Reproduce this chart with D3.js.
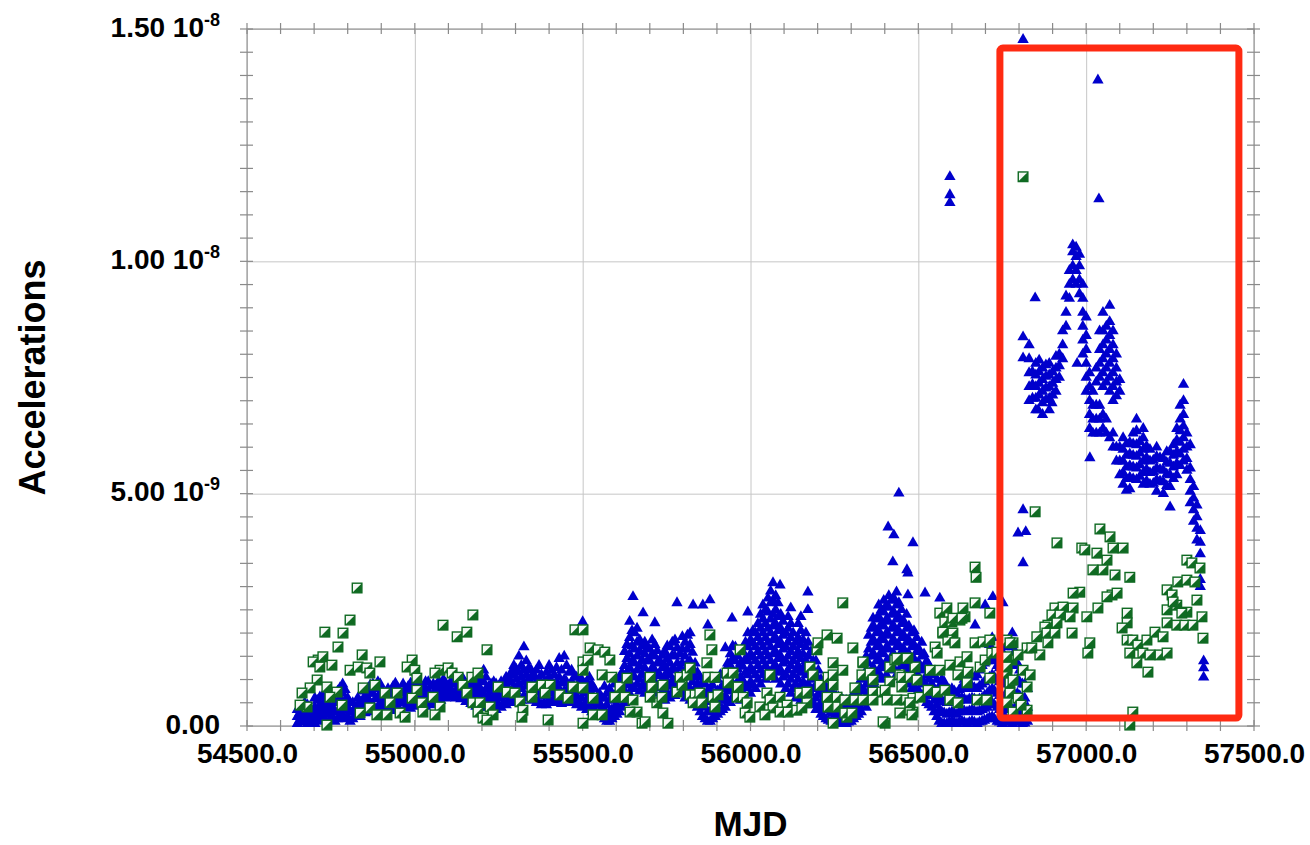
<!DOCTYPE html>
<html>
<head>
<meta charset="utf-8">
<script src="https://cdn.jsdelivr.net/npm/d3@7"></script>
<style>
body { margin: 0; background: #fff; }
text { font-family: "Liberation Sans", Arial, Helvetica, sans-serif; font-weight: bold; fill: #000; }
</style>
</head>
<body>
<div class="chart"></div>
<script>
var svgWidth = 1310;
var svgHeight = 845;

var margin = {
  top: 29,
  right: 56,
  bottom: 119,
  left: 247
};

var width = svgWidth - margin.left - margin.right;
var height = svgHeight - margin.top - margin.bottom;

// values below are in units of 1e-9
var UNIT = 1e-9;

var xTicks = [54500, 55000, 55500, 56000, 56500, 57000, 57500];
var yTicks = [0, 5e-9, 1e-8, 1.5e-8];
var yTickMantissa = ["0.00", "5.00", "1.00", "1.50"];
var yTickExponent = ["", "-9", "-8", "-8"];

// highlighted window: mjd from, mjd to, acc from, acc to
var highlightBox = [56743, 57455, 0.17, 14.59];

// blue series: [mjd, values seen at that date...]
var blueRows = [
  [54650, 0.05, 0.2, 0.35], [54665, 0.1, 0.25, 0.4, 0.15], [54680, 0.05, 0.2, 0.35, 0.45],
  [54695, 0.1, 0.3, 0.2], [54710, 0.15, 0.35, 0.55, 0.25], [54725, 0.2, 0.45, 0.65, 0.3],
  [54740, 0.25, 0.5, 0.4, 0.7], [54755, 0.2, 0.4, 0.6], [54770, 0.3, 0.5, 0.75, 0.15],
  [54785, 0.25, 0.45, 0.7, 0.9], [54800, 0.2, 0.4, 0.6], [54815, 0.3, 0.5, 0.15],
  [54830, 0.3, 0.45, 0.6], [54845, 0.35, 0.55, 0.75], [54860, 0.4, 0.6, 0.8, 0.5],
  [54875, 0.45, 0.7, 0.9], [54890, 0.4, 0.6, 0.85, 0.95], [54905, 0.35, 0.55, 0.75],
  [54920, 0.4, 0.6, 0.8], [54935, 0.45, 0.65, 0.85], [54950, 0.4, 0.6, 0.8],
  [54965, 0.5, 0.7, 0.9], [54980, 0.45, 0.65, 0.85], [54995, 0.5, 0.7, 0.95],
  [55010, 0.55, 0.75, 0.9], [55025, 0.5, 0.7, 0.85], [55040, 0.55, 0.75, 0.95],
  [55055, 0.5, 0.7, 0.9], [55070, 0.6, 0.8, 0.95], [55085, 0.65, 0.8, 1.0],
  [55100, 0.7, 0.85], [55115, 0.7, 0.9, 1.0], [55130, 0.65, 0.8, 0.95],
  [55145, 0.6, 0.8, 1.0], [55160, 0.55, 0.75, 0.95], [55175, 0.5, 0.7, 0.9, 1.05],
  [55190, 0.45, 0.65, 0.85, 1.1], [55205, 0.5, 0.7, 0.95, 1.2], [55220, 0.45, 0.65, 0.85],
  [55235, 0.4, 0.6, 0.8, 0.95], [55250, 0.45, 0.65, 0.85], [55265, 0.5, 0.7, 0.9],
  [55280, 0.55, 0.8, 1.0], [55295, 0.6, 0.85, 1.1, 1.3], [55310, 0.6, 0.9, 1.15, 1.5],
  [55325, 0.65, 0.95, 1.2, 1.7], [55340, 0.7, 1.0, 1.25], [55355, 0.6, 0.85, 1.1],
  [55370, 0.5, 0.75, 1.0, 1.3], [55385, 0.5, 0.7, 0.95], [55400, 0.55, 0.8, 1.05, 1.3],
  [55415, 0.6, 0.85, 1.1], [55430, 0.55, 0.8, 1.05, 1.45], [55445, 0.5, 0.75, 1.0, 1.5],
  [55460, 0.6, 0.85, 1.15], [55475, 0.55, 0.8, 1.05], [55490, 0.5, 0.75, 0.95],
  [55500, 2.24],
  [55505, 0.45, 0.7, 0.9], [55520, 0.4, 0.65, 0.85, 1.05], [55535, 0.35, 0.55, 0.8],
  [55550, 0.3, 0.5, 0.7], [55565, 0.15, 0.35, 0.6, 0.85], [55580, 0.1, 0.3, 0.55, 0.8],
  [55595, 0.2, 0.4, 0.65, 0.9], [55610, 0.3, 0.55, 0.8, 1.05], [55625, 0.5, 0.75, 1.0, 1.3, 1.6],
  [55640, 0.7, 0.95, 1.25, 1.55, 1.9, 2.25], [55650, 2.78], [55655, 0.8, 1.05, 1.35, 1.65, 2.0],
  [55670, 0.75, 1.0, 1.3, 1.6, 1.85], [55680, 2.43], [55685, 0.7, 0.95, 1.25, 1.55, 1.8],
  [55700, 0.8, 1.1, 1.4, 1.65], [55715, 0.7, 0.95, 1.2, 1.5, 1.75, 2.22], [55730, 0.6, 0.85, 1.1, 1.4],
  [55745, 0.55, 0.8, 1.05, 1.3, 1.6], [55760, 0.6, 0.85, 1.1, 1.35, 1.7], [55775, 0.65, 0.9, 1.2, 1.5, 1.85],
  [55781, 2.65], [55790, 0.7, 0.95, 1.25, 1.55], [55805, 0.6, 0.9, 1.2, 1.5, 1.8],
  [55820, 0.55, 0.8, 1.1, 1.4, 1.75, 2.0], [55829, 2.6], [55835, 0.5, 0.8, 1.05, 1.35],
  [55850, 0.3, 0.55, 0.8, 1.05], [55858, 2.6], [55865, 0.15, 0.4, 0.65, 0.9],
  [55873, 2.17], [55879, 2.71], [55880, 0.1, 0.3, 0.55, 0.8], [55895, 0.2, 0.45, 0.7, 1.0],
  [55910, 0.3, 0.55, 0.8, 1.1], [55925, 0.4, 0.65, 0.9, 1.2, 1.68], [55940, 0.5, 0.75, 1.0, 1.3, 1.55],
  [55945, 2.32], [55955, 0.6, 0.85, 1.1, 1.4, 1.7], [55970, 0.55, 0.8, 1.05, 1.35, 1.6],
  [55985, 0.6, 0.85, 1.15, 1.45, 1.8], [55992, 2.45], [56000, 0.7, 0.95, 1.25, 1.55, 1.85],
  [56015, 0.8, 1.1, 1.4, 1.7, 2.0], [56030, 0.9, 1.2, 1.5, 1.8, 2.1, 2.4],
  [56045, 1.0, 1.3, 1.6, 1.9, 2.2, 2.5], [56060, 1.1, 1.4, 1.7, 2.0, 2.3, 2.65, 2.9],
  [56067, 3.08], [56075, 1.0, 1.3, 1.6, 1.9, 2.2, 2.5, 2.8], [56088, 3.03],
  [56090, 0.9, 1.2, 1.5, 1.8, 2.1, 2.4], [56105, 0.8, 1.1, 1.4, 1.7, 2.0],
  [56120, 0.7, 1.0, 1.3, 1.6, 1.9, 2.2, 2.54], [56135, 0.6, 0.9, 1.2, 1.5, 1.8],
  [56150, 0.55, 0.85, 1.15, 1.45, 1.75, 2.05, 2.35], [56165, 0.5, 0.8, 1.1, 1.4, 1.7, 2.0],
  [56171, 2.88, 2.5], [56180, 0.45, 0.7, 1.0, 1.3, 1.6], [56195, 0.35, 0.6, 0.85, 1.1, 1.4],
  [56210, 0.25, 0.5, 0.75, 1.0], [56225, 0.15, 0.4, 0.6, 0.85], [56240, 0.1, 0.3, 0.5, 0.7],
  [56255, 0.05, 0.25, 0.45, 0.65], [56270, 0.05, 0.2, 0.4, 0.6], [56285, 0.05, 0.2, 0.35, 0.55],
  [56300, 0.1, 0.3, 0.5], [56315, 0.2, 0.4, 0.6, 0.8], [56330, 0.3, 0.5, 0.75, 1.0],
  [56345, 0.4, 0.65, 0.9, 1.2, 1.5], [56360, 0.6, 0.9, 1.2, 1.5, 1.8, 2.1], [56365, 2.32],
  [56375, 0.8, 1.1, 1.4, 1.7, 2.0, 2.3], [56390, 1.0, 1.3, 1.6, 1.9, 2.2, 2.5],
  [56405, 1.1, 1.4, 1.7, 2.0, 2.3, 2.6], [56410, 4.28], [56420, 1.2, 1.5, 1.8, 2.1, 2.4, 2.7],
  [56424, 3.53], [56427, 4.11], [56435, 1.1, 1.4, 1.7, 2.0, 2.3, 2.6, 2.88], [56442, 5.01],
  [56450, 1.0, 1.3, 1.6, 1.9, 2.2, 2.5], [56465, 0.9, 1.2, 1.5, 1.8, 2.1, 2.4],
  [56466, 3.36], [56469, 3.29, 2.82], [56480, 0.8, 1.1, 1.4, 1.7, 2.0], [56484, 3.94],
  [56495, 0.7, 1.0, 1.3, 1.6, 1.9], [56510, 0.6, 0.9, 1.2, 1.5, 1.8], [56520, 2.86],
  [56525, 0.5, 0.8, 1.1, 1.4], [56540, 0.4, 0.65, 0.9, 1.2], [56555, 0.2, 0.45, 0.7, 1.0],
  [56564, 2.75], [56570, 0.05, 0.3, 0.55, 0.8, 1.0], [56585, 0.05, 0.25, 0.5, 0.75],
  [56594, 11.82, 11.43, 11.26], [56600, 0.1, 0.3, 0.55, 0.8], [56615, 0.05, 0.25, 0.5, 0.7],
  [56630, 0.1, 0.35, 0.6, 0.85], [56645, 0.05, 0.3, 0.55, 0.8, 1.05], [56660, 0.1, 0.35, 0.6, 0.85],
  [56669, 2.17], [56675, 0.05, 0.3, 0.55, 0.8, 1.1], [56690, 0.1, 0.35, 0.6, 0.9, 1.3],
  [56699, 2.6], [56705, 0.15, 0.4, 0.7, 1.0, 1.4], [56720, 0.2, 0.5, 0.8, 1.1, 1.5, 1.9],
  [56722, 2.78], [56735, 0.1, 0.4, 0.7, 1.0, 1.3], [56750, 0.05, 0.3, 0.6, 0.9, 1.2, 1.6],
  [56752, 2.65], [56765, 0.1, 0.4, 0.7, 1.0, 1.4, 1.8], [56780, 0.05, 0.35, 0.65, 0.95, 1.3, 1.7, 2.0],
  [56795, 0.1, 0.4, 0.7, 1.0, 1.35], [56797, 4.15], [56810, 0.05, 0.3, 0.6, 0.9],
  [56812, 14.77, 8.37, 7.92, 4.65, 3.51], [56820, 4.18], [56825, 0.1, 0.4, 0.8],
  // in-between dates of the low band
  [54657, 0.12, 0.28, 0.42], [54672, 0.08, 0.3, 0.5], [54687, 0.12, 0.28, 0.4],
  [54702, 0.05, 0.22, 0.4, 0.6], [54717, 0.1, 0.3, 0.45, 0.62], [54732, 0.12, 0.35, 0.55],
  [54747, 0.15, 0.32, 0.58], [54762, 0.1, 0.3, 0.5, 0.68], [54777, 0.2, 0.38, 0.6, 0.82],
  [54792, 0.15, 0.35, 0.55, 0.78], [54807, 0.1, 0.3, 0.5], [54822, 0.2, 0.4],
  [54837, 0.2, 0.38, 0.52], [54852, 0.28, 0.45, 0.65], [54867, 0.3, 0.5, 0.7, 0.88],
  [54882, 0.35, 0.58, 0.8], [54897, 0.3, 0.5, 0.72, 0.9], [54912, 0.3, 0.48, 0.68],
  [54927, 0.33, 0.52, 0.72], [54942, 0.35, 0.55, 0.75, 0.92], [54957, 0.32, 0.52, 0.72],
  [54972, 0.4, 0.6, 0.8], [54987, 0.38, 0.58, 0.78, 0.92], [55002, 0.42, 0.62, 0.82],
  [55017, 0.45, 0.65, 0.85], [55032, 0.42, 0.62, 0.8, 0.95], [55047, 0.45, 0.65, 0.85],
  [55062, 0.5, 0.68, 0.86], [55077, 0.55, 0.72, 0.9], [55092, 0.6, 0.75, 0.92],
  [55107, 0.62, 0.78, 0.95], [55122, 0.6, 0.75, 0.9, 1.05], [55137, 0.58, 0.72, 0.88],
  [55152, 0.52, 0.7, 0.9], [55167, 0.48, 0.65, 0.85, 1.0], [55182, 0.42, 0.6, 0.8, 0.98],
  [55197, 0.4, 0.58, 0.78, 1.0], [55212, 0.4, 0.6, 0.8, 1.05], [55227, 0.38, 0.55, 0.75, 0.9],
  [55242, 0.35, 0.55, 0.72, 0.9], [55257, 0.4, 0.6, 0.8, 0.95], [55272, 0.45, 0.65, 0.85, 1.05],
  [55287, 0.5, 0.72, 0.95, 1.15], [55302, 0.52, 0.75, 1.0, 1.22], [55317, 0.55, 0.8, 1.05, 1.3],
  [55332, 0.6, 0.85, 1.1, 1.4], [55347, 0.55, 0.8, 1.05, 1.2], [55362, 0.5, 0.72, 0.95, 1.2],
  [55377, 0.45, 0.65, 0.88, 1.1], [55392, 0.45, 0.65, 0.85, 1.15], [55407, 0.5, 0.7, 0.95, 1.2],
  [55422, 0.5, 0.72, 0.95, 1.25], [55437, 0.48, 0.7, 0.92, 1.2], [55452, 0.52, 0.75, 0.95, 1.3],
  [55467, 0.5, 0.72, 0.95, 1.2], [55482, 0.45, 0.65, 0.85, 1.05], [55497, 0.4, 0.6, 0.8, 1.0],
  [55512, 0.35, 0.55, 0.78, 0.95], [55527, 0.3, 0.5, 0.7, 0.9], [55542, 0.25, 0.45, 0.62],
  [55557, 0.2, 0.4, 0.6], [55572, 0.1, 0.25, 0.45, 0.7], [55587, 0.15, 0.35, 0.6],
  [55602, 0.25, 0.45, 0.7, 0.95], [55617, 0.4, 0.65, 0.9, 1.15], [55632, 0.62, 0.88, 1.15, 1.45, 1.75],
  [55647, 0.82, 1.1, 1.4, 1.72, 2.05], [55662, 0.9, 1.2, 1.5, 1.8, 2.1], [55677, 0.85, 1.12, 1.42, 1.72],
  [55692, 0.85, 1.1, 1.4, 1.68], [55707, 0.95, 1.25, 1.55, 1.85], [55722, 0.82, 1.08, 1.35, 1.62],
  [55737, 0.72, 0.98, 1.25, 1.52], [55752, 0.68, 0.92, 1.18, 1.45, 1.72], [55767, 0.72, 0.98, 1.22, 1.52, 1.8],
  [55782, 0.78, 1.05, 1.35, 1.68], [55797, 0.75, 1.05, 1.35, 1.65, 1.92], [55812, 0.72, 1.05, 1.35, 1.65, 1.95],
  [55827, 0.65, 0.95, 1.25, 1.58], [55842, 0.4, 0.65, 0.9, 1.15], [55857, 0.2, 0.45, 0.7, 0.95],
  [55872, 0.1, 0.3, 0.52, 0.75], [55887, 0.15, 0.38, 0.62, 0.88], [55902, 0.25, 0.5, 0.75, 1.0],
  [55917, 0.35, 0.6, 0.85, 1.1], [55932, 0.55, 0.8, 1.08, 1.35], [55947, 0.62, 0.9, 1.18, 1.45, 1.72],
  [55962, 0.7, 0.95, 1.22, 1.5], [55977, 0.7, 0.98, 1.28, 1.6], [55992, 0.82, 1.1, 1.4, 1.7, 2.0],
  [56007, 0.88, 1.18, 1.48, 1.78, 2.05], [56022, 1.0, 1.3, 1.6, 1.9, 2.2],
  [56037, 1.1, 1.4, 1.7, 2.0, 2.3, 2.6], [56052, 1.2, 1.5, 1.8, 2.1, 2.45, 2.75],
  [56067, 1.25, 1.55, 1.85, 2.15, 2.4, 2.7], [56082, 1.15, 1.45, 1.75, 2.05, 2.35, 2.65],
  [56097, 1.05, 1.35, 1.65, 1.95, 2.25], [56112, 0.9, 1.2, 1.5, 1.8, 2.1, 2.35],
  [56127, 0.8, 1.1, 1.4, 1.7, 2.0], [56142, 0.7, 1.0, 1.3, 1.6, 1.9, 2.2],
  [56157, 0.65, 0.95, 1.25, 1.55, 1.85], [56172, 0.6, 0.9, 1.2, 1.5, 1.8],
  [56187, 0.5, 0.8, 1.1, 1.4], [56202, 0.4, 0.68, 0.95, 1.2], [56217, 0.2, 0.45, 0.68, 0.92],
  [56232, 0.12, 0.35, 0.55, 0.78], [56247, 0.08, 0.28, 0.48, 0.68], [56262, 0.05, 0.22, 0.42, 0.62],
  [56277, 0.05, 0.22, 0.38, 0.55], [56292, 0.08, 0.25, 0.42], [56307, 0.15, 0.35, 0.55, 0.7],
  [56322, 0.25, 0.45, 0.68, 0.9], [56337, 0.5, 0.78, 1.05, 1.35], [56352, 0.75, 1.05, 1.35, 1.65, 1.95],
  [56367, 0.95, 1.25, 1.55, 1.85, 2.15], [56382, 1.15, 1.45, 1.75, 2.05, 2.35, 2.6],
  [56397, 1.25, 1.55, 1.85, 2.15, 2.45, 2.7], [56412, 1.35, 1.65, 1.95, 2.25, 2.55, 2.8],
  [56427, 1.25, 1.55, 1.85, 2.15, 2.45, 2.75], [56442, 1.15, 1.45, 1.75, 2.05, 2.35, 2.65],
  [56457, 1.05, 1.35, 1.65, 1.95, 2.25], [56472, 0.95, 1.25, 1.55, 1.85, 2.15],
  [56487, 0.85, 1.15, 1.45, 1.75, 2.05], [56502, 0.75, 1.05, 1.35, 1.65],
  [56517, 0.65, 0.95, 1.25, 1.55], [56532, 0.45, 0.72, 1.0, 1.3],
  [56547, 0.3, 0.55, 0.8, 1.1], [56562, 0.1, 0.35, 0.6, 0.85], [56577, 0.05, 0.28, 0.52, 0.78, 0.95],
  [56592, 0.08, 0.28, 0.52, 0.78], [56607, 0.08, 0.28, 0.52, 0.75], [56622, 0.08, 0.3, 0.55, 0.78],
  [56637, 0.08, 0.32, 0.58, 0.82, 1.0], [56652, 0.08, 0.32, 0.58, 0.82], [56667, 0.08, 0.32, 0.58, 0.82, 1.05],
  [56682, 0.08, 0.32, 0.58, 0.85, 1.2], [56697, 0.12, 0.38, 0.65, 0.95, 1.35], [56712, 0.18, 0.45, 0.75, 1.05, 1.45, 1.75],
  [56727, 0.15, 0.45, 0.75, 1.05, 1.4], [56742, 0.08, 0.35, 0.65, 0.95, 1.25, 1.5],
  [56757, 0.08, 0.35, 0.65, 0.95, 1.3, 1.7], [56772, 0.08, 0.38, 0.68, 0.98, 1.35, 1.75],
  [56787, 0.08, 0.38, 0.68, 0.98, 1.3, 1.6], [56802, 0.08, 0.35, 0.65, 0.95, 1.2], [56817, 0.06, 0.3, 0.6, 0.9],
  // inside the highlighted window
  [56830, 7.0, 7.3, 7.6, 7.9, 8.2], [56840, 7.05, 7.35, 7.62], [56848, 9.21],
  [56850, 6.8, 7.05, 7.3, 7.55, 7.8], [56857, 6.8], [56860, 7.12, 7.37, 7.62, 7.87],
  [56870, 6.7, 6.95, 7.2, 7.45, 7.7], [56880, 7.02, 7.27, 7.52, 7.77],
  [56890, 6.8, 7.05, 7.3, 7.55, 7.8], [56898, 6.95], [56900, 7.12, 7.37, 7.62],
  [56910, 7.2, 7.45, 7.7, 7.95], [56920, 7.5, 7.75, 8.0], [56930, 7.9, 8.2, 8.5],
  [56940, 8.6, 8.9, 9.25], [56950, 9.2, 9.5, 9.8], [56960, 9.6, 9.9, 10.2, 10.35],
  [56970, 9.5, 9.8, 10.1, 10.3], [56973, 7.8], [56980, 9.3, 9.6, 9.9, 10.15],
  [56990, 8.0, 8.3, 8.6, 8.9, 9.2, 9.5], [57000, 7.2, 7.5, 7.8, 8.1, 8.4, 8.8],
  [57010, 6.4, 6.7, 7.0, 7.3, 7.6], [57011, 5.77], [57020, 6.3, 6.6, 6.9, 7.2],
  [57030, 6.3, 6.6, 6.9, 7.4, 7.7], [57035, 13.9], [57038, 11.34],
  [57040, 6.3, 6.6, 6.9, 7.5, 7.8, 8.1, 8.5], [57050, 6.4, 6.7, 7.3, 7.6, 7.9, 8.2, 8.5, 8.9],
  [57060, 6.3, 6.6, 7.4, 7.7, 8.0, 8.3, 8.6], [57070, 6.2, 7.2, 7.5, 7.8, 8.1, 8.4, 8.7, 9.05],
  [57080, 6.0, 6.3, 7.0, 7.3, 7.6, 7.9, 8.2, 8.5], [57090, 5.7, 6.0, 7.1, 7.4, 7.7, 8.0],
  [57100, 5.4, 5.7, 6.0, 7.2, 7.45], [57110, 5.2, 5.45, 5.7, 5.95, 6.2],
  [57120, 5.07, 5.32, 5.57, 5.82, 6.07], [57130, 5.1, 5.35, 5.6, 5.85, 6.1],
  [57140, 5.32, 5.57, 5.82, 6.07, 6.3], [57150, 5.3, 5.55, 5.8, 6.05, 6.35, 6.6],
  [57160, 5.37, 5.62, 5.87, 6.12], [57170, 5.2, 5.45, 5.7, 5.95, 6.2, 6.4],
  [57180, 5.27, 5.52, 5.77, 6.02], [57190, 5.2, 5.45, 5.7, 5.95],
  [57200, 5.22, 5.47, 5.72], [57210, 5.05, 5.3, 5.55, 5.8, 6.0],
  [57220, 5.27, 5.52, 5.77], [57230, 5.0, 5.25, 5.5, 5.75],
  [57240, 5.17, 5.42, 5.67, 5.9], [57250, 5.15, 5.4, 5.65, 5.9, 4.71],
  [57260, 5.32, 5.57, 5.82, 6.05], [57270, 5.4, 5.65, 5.9, 6.15, 6.4],
  [57280, 5.6, 5.85, 6.1, 6.35, 6.6, 6.9], [57290, 5.7, 5.95, 6.2, 6.45, 6.7, 7.0, 7.35],
  [57300, 5.5, 5.75, 6.0, 6.3], [57310, 4.8, 5.05, 5.3, 5.55, 6.05],
  [57320, 4.4, 4.65, 4.9, 5.15], [57330, 4.0, 4.25, 4.5, 4.75],
  [57340, 3.7, 3.95, 4.2, 3.0, 3.15], [57350, 1.05, 1.25, 1.4]
];

// green series: [mjd, value]
var greenPoints = [
  [54828, 2.97], [54807, 2.28], [54732, 2.02], [54786, 2.0], [54771, 1.7], [54712, 1.42],
  [54697, 1.38], [54726, 1.49], [54843, 1.53], [54896, 1.38], [54717, 1.27], [54753, 1.31],
  [54807, 1.2], [54831, 1.27], [54857, 1.25], [54866, 1.14], [54709, 0.99], [54688, 0.82],
  [54664, 0.71], [54679, 0.41], [54658, 0.45], [54738, 0.84], [54768, 0.73], [54846, 0.82],
  [54881, 0.88], [54783, 0.45], [54747, 0.62], [54866, 0.39], [54887, 0.24], [54738, 0.02],
  [54837, 0.28], [54992, 1.42], [54977, 1.27], [55000, 1.2], [54911, 0.71], [54947, 0.71],
  [54926, 0.5], [54917, 0.24], [54956, 0.28], [54971, 0.19], [55006, 1.03], [55006, 0.77],
  [54992, 0.6], [55021, 0.5], [55024, 0.3], [55054, 0.62], [55075, 0.41], [55060, 0.24],
  [55075, 1.2], [55060, 1.14], [55099, 1.25], [55111, 1.14], [55084, 2.17], [55173, 2.39],
  [55126, 1.92], [55155, 2.02], [55215, 1.64], [55129, 1.05], [55143, 0.88], [55170, 1.05],
  [55188, 1.14], [55155, 0.71], [55173, 0.5], [55194, 0.5], [55188, 0.3], [55224, 0.41],
  [55233, 0.24], [55203, 0.17], [55215, 0.13], [55248, 0.84], [55275, 0.73], [55298, 0.71],
  [55313, 0.52], [55349, 0.84], [55379, 0.88], [55403, 0.88], [55322, 0.34], [55319, 0.19],
  [55397, 0.13], [55349, 0.62], [55388, 0.71], [55432, 0.67], [55456, 0.6], [55471, 0.84],
  [55477, 2.07], [55501, 0.06],
  [55501, 2.07], [55522, 1.68], [55546, 1.64], [55566, 1.59], [55501, 1.38], [55516, 1.42],
  [55501, 1.2], [55581, 1.42], [55558, 1.1], [55587, 1.05], [55501, 0.82], [55531, 0.6],
  [55531, 0.24], [55558, 0.24], [55596, 0.62], [55611, 0.84], [55626, 0.62], [55632, 1.03],
  [55650, 0.56], [55662, 0.3], [55641, 0.3], [55677, 0.06], [55686, 0.09], [55701, 1.05],
  [55706, 0.84], [55739, 0.88], [55721, 0.5], [55739, 0.28], [55754, 0.06], [55701, 0.62],
  [55736, 0.62], [55781, 0.73], [55796, 0.88], [55790, 1.05], [55811, 1.1], [55820, 1.25],
  [55820, 0.67], [55835, 0.67], [55849, 0.71], [55829, 0.5], [55855, 0.5], [55879, 1.96],
  [55885, 1.64], [55870, 1.36], [55873, 1.05], [55894, 1.05], [55888, 0.62], [55903, 0.67],
  [55894, 0.41], [55930, 1.14], [55948, 1.14], [55933, 0.93], [55960, 0.84], [55969, 1.64],
  [55963, 0.84], [55960, 0.62], [55978, 0.62], [55990, 0.5], [55984, 0.28], [55998, 0.19],
  [56049, 0.71], [56058, 0.56], [56067, 0.39], [56088, 0.62], [56109, 0.45], [56028, 0.41],
  [56043, 0.24], [56088, 0.3], [56112, 0.3], [56138, 0.34], [56058, 1.1], [56168, 0.5],
  [56153, 0.39], [56147, 0.71], [56168, 0.73], [56177, 1.27], [56186, 1.1], [56207, 0.88],
  [56231, 1.05], [56246, 0.88], [56198, 1.64], [56201, 1.79], [56228, 1.96], [56258, 1.89],
  [56246, 1.36], [56246, 1.1], [56275, 2.65], [56305, 1.68], [56228, 0.62], [56258, 0.62],
  [56258, 0.41], [56231, 0.41], [56246, 0.06], [56287, 0.19], [56335, 1.36], [56332, 1.1],
  [56356, 1.14], [56365, 0.99], [56365, 0.73], [56392, 0.73], [56401, 0.06], [56415, 0.95],
  [56445, 1.1], [56451, 0.84], [56415, 1.27], [56430, 1.42], [56469, 1.46], [56460, 0.56],
  [56484, 0.6], [56484, 0.3], [56475, 0.34], [56490, 1.27],
  [56335, 1.38], [56275, 1.2], [56311, 0.82], [56281, 0.56], [56311, 0.56], [56335, 0.56],
  [56365, 0.56], [56281, 0.28], [56302, 0.28], [56395, 0.09], [56401, 0.77], [56407, 0.56],
  [56436, 1.46], [56466, 1.46], [56451, 1.05], [56475, 1.05], [56496, 0.99], [56436, 0.56],
  [56475, 0.5], [56505, 0.62], [56445, 0.28], [56481, 0.24], [56564, 2.43], [56579, 2.24],
  [56600, 2.24], [56624, 2.28], [56639, 2.35], [56573, 2.0], [56603, 2.0], [56588, 1.85],
  [56609, 1.79], [56550, 1.7], [56556, 1.57], [56535, 1.2], [56564, 1.2], [56594, 1.31],
  [56624, 1.38], [56645, 1.49], [56618, 1.1], [56648, 1.16], [56684, 1.27], [56699, 1.42],
  [56669, 1.79], [56693, 1.81], [56713, 1.85], [56719, 1.57], [56734, 1.59], [56529, 0.77],
  [56556, 0.73], [56579, 0.77], [56594, 0.56], [56618, 0.5], [56645, 0.93], [56675, 0.56],
  [56704, 0.56], [56713, 1.03], [56764, 1.14], [56773, 0.93], [56764, 1.85], [56782, 1.79],
  [56779, 1.42], [56669, 3.42], [56672, 3.2], [56585, 2.54], [56633, 2.54], [56669, 2.65],
  [56713, 2.43], [56603, 2.32], [56630, 2.32], [56573, 2.02],
  [56824, 1.68], [56773, 1.79], [56764, 1.49], [56797, 1.53], [56764, 1.27], [56782, 0.99],
  [56824, 0.84], [56773, 0.71], [56824, 0.34], [56764, 0.5], [56797, 0.6], [56812, 1.2],
  [56833, 1.1], [56782, 0.3], [56806, 0.45], [56812, 11.82],
  [56848, 4.61], [56913, 3.94], [57041, 4.24], [57071, 4.07], [56987, 3.83], [56996, 3.79],
  [57032, 3.72], [57062, 3.57], [57080, 3.83], [57110, 3.83], [57020, 3.36], [57050, 3.36],
  [57086, 3.25], [57130, 3.2], [56981, 2.88], [56961, 2.86], [57077, 2.82], [57092, 2.86],
  [57062, 2.78], [57035, 2.54], [57002, 2.35], [56907, 2.54], [56931, 2.56], [56961, 2.54],
  [56898, 2.39], [56922, 2.39], [56952, 2.35], [56886, 2.17], [56913, 2.22], [56877, 2.13],
  [56883, 2.0], [56907, 2.0], [56853, 1.92], [56886, 1.79], [56862, 1.53], [56838, 1.68],
  [56958, 2.0], [57011, 1.79], [57005, 1.57], [57122, 2.43], [57122, 2.22], [57107, 2.11],
  [57122, 1.85], [57139, 1.85], [57154, 1.74], [57181, 1.85], [57130, 1.57], [57169, 1.57],
  [57151, 1.36], [57184, 1.16], [57190, 1.53], [57220, 1.53], [57241, 1.57], [57205, 2.02],
  [57229, 1.92], [57241, 2.93], [57256, 2.82], [57241, 2.5], [57270, 2.6], [57273, 3.1],
  [57300, 3.14], [57324, 3.1], [57300, 2.45], [57285, 2.43], [57241, 2.22], [57270, 2.17],
  [57294, 2.17], [57318, 2.17], [57259, 2.67], [57300, 3.57], [57315, 3.51], [57339, 3.4],
  [57330, 2.71], [57345, 2.35], [57348, 1.89], [57139, 0.3], [57130, 0.02]
];

var bluePoints = [];
blueRows.forEach(function(row) {
  row.slice(1).forEach(function(v) { bluePoints.push([row[0], v]); });
});

var svg = d3.select(".chart")
  .append("svg")
  .attr("width", svgWidth)
  .attr("height", svgHeight);

var chartGroup = svg.append("g")
  .attr("transform", `translate(${margin.left}, ${margin.top})`);

var xLinearScale = d3.scaleLinear().domain([54500, 57500]).range([0, width]);
var yLinearScale = d3.scaleLinear().domain([0, 1.5e-8]).range([height, 0]);

// grid
var gridX = chartGroup.append("g")
  .call(d3.axisBottom(xLinearScale).tickValues(xTicks).tickSize(height).tickFormat(""));
var gridY = chartGroup.append("g")
  .call(d3.axisLeft(yLinearScale).tickValues(yTicks).tickSize(-width).tickFormat(""));
[gridX, gridY].forEach(function(g) {
  g.select(".domain").remove();
  g.selectAll("line").attr("stroke", "#c6c6c6").attr("stroke-width", 1);
});

// frame
chartGroup.append("rect")
  .attr("width", width)
  .attr("height", height)
  .attr("fill", "none")
  .attr("stroke", "#9a9a9a")
  .attr("stroke-width", 1.2);

// minor ticks crossing all four sides
var xMinor = d3.range(54500, 57501, 100);
var yMinor = d3.range(0, 15.01, 0.5).map(v => v * UNIT);
var tickGroup = chartGroup.append("g").attr("stroke", "#8a8a8a").attr("stroke-width", 1.2);
[0, height].forEach(function(yy) {
  tickGroup.selectAll(null).data(xMinor).enter().append("line")
    .attr("x1", d => xLinearScale(d)).attr("x2", d => xLinearScale(d))
    .attr("y1", yy - 6).attr("y2", yy + 5);
});
[0, width].forEach(function(xx) {
  tickGroup.selectAll(null).data(yMinor).enter().append("line")
    .attr("y1", d => yLinearScale(d)).attr("y2", d => yLinearScale(d))
    .attr("x1", xx - 7).attr("x2", xx + 6);
});

// tick labels
var bottomAxis = d3.axisBottom(xLinearScale)
  .tickValues(xTicks)
  .tickFormat(d3.format(".1f"))
  .tickSize(0)
  .tickPadding(17);
var xAxisG = chartGroup.append("g")
  .attr("transform", `translate(0, ${height})`)
  .call(bottomAxis);
xAxisG.select(".domain").remove();
xAxisG.selectAll("text").attr("font-size", "28px").attr("fill", "#000");

var leftAxis = d3.axisLeft(yLinearScale)
  .tickValues(yTicks)
  .tickSize(0)
  .tickPadding(27);
var yAxisG = chartGroup.append("g").call(leftAxis);
yAxisG.select(".domain").remove();
yAxisG.selectAll(".tick text").each(function(d, i) {
  var t = d3.select(this).text(null)
    .attr("dy", "0.25em")
    .attr("font-size", "28px")
    .attr("fill", "#000");
  t.append("tspan").text(yTickMantissa[i] + (yTickExponent[i] ? " 10" : ""));
  if (yTickExponent[i]) {
    t.append("tspan").attr("dy", -11).attr("font-size", "18px").text(yTickExponent[i]);
  }
});
svg.selectAll(".tick text").style("font-family", '"Liberation Sans", Arial, sans-serif').style("font-weight", "bold");

// markers
var triangle = d3.symbol().type(d3.symbolTriangle).size(56);
chartGroup.append("g").selectAll("path")
  .data(bluePoints)
  .enter()
  .append("path")
  .attr("d", triangle)
  .attr("transform", d => `translate(${xLinearScale(d[0])}, ${yLinearScale(d[1] * UNIT)})`)
  .attr("fill", "#0000cc");

var s = 4.8;
var greenG = chartGroup.append("g").selectAll("g")
  .data(greenPoints)
  .enter()
  .append("g")
  .attr("transform", d => `translate(${xLinearScale(d[0])}, ${yLinearScale(d[1] * UNIT)})`);
greenG.append("rect")
  .attr("x", -s).attr("y", -s).attr("width", 2 * s).attr("height", 2 * s)
  .attr("fill", "#f4f8f4")
  .attr("stroke", "#0f6a22")
  .attr("stroke-width", 1.4);
greenG.append("path")
  .attr("d", `M${s},${-s}L${s},${s}L${-s},${s}Z`)
  .attr("fill", "#0f6a22");

// highlighted window
chartGroup.append("rect")
  .attr("x", xLinearScale(highlightBox[0]))
  .attr("y", yLinearScale(highlightBox[3] * UNIT))
  .attr("width", xLinearScale(highlightBox[1]) - xLinearScale(highlightBox[0]))
  .attr("height", yLinearScale(highlightBox[2] * UNIT) - yLinearScale(highlightBox[3] * UNIT))
  .attr("rx", 3)
  .attr("fill", "none")
  .attr("stroke", "#ff2a12")
  .attr("stroke-width", 7);

// axis titles
svg.append("text")
  .attr("x", margin.left + width / 2)
  .attr("y", 836)
  .attr("text-anchor", "middle")
  .attr("font-size", "35px")
  .text("MJD");

svg.append("text")
  .attr("transform", `translate(45, ${margin.top + height / 2}) rotate(-90)`)
  .attr("text-anchor", "middle")
  .attr("font-size", "36px")
  .text("Accelerations");
</script>
</body>
</html>
